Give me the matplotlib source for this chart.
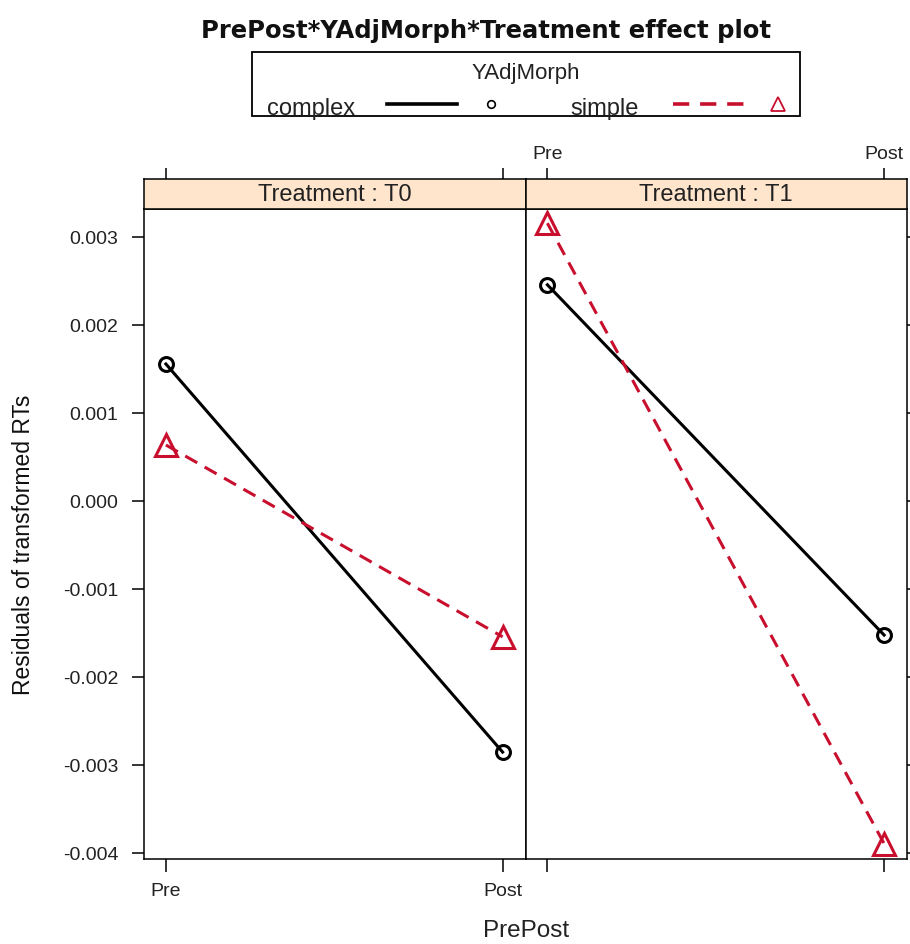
import numpy as np
import matplotlib.pyplot as plt
from matplotlib.patches import Rectangle
from matplotlib.lines import Line2D

plt.rcParams['font.family'] = ['Liberation Sans', 'DejaVu Sans']

# data
phases = ['Pre', 'Post']
treatments = ['T0', 'T1']
complex_vals = {'T0': [0.00156, -0.00285], 'T1': [0.00246, -0.00152]}
simple_vals = {'T0': [0.00064, -0.00154], 'T1': [0.00316, -0.00389]}
yticks = [-0.004, -0.003, -0.002, -0.001, 0.000, 0.001, 0.002, 0.003]
ytick_labels = ['-0.004', '-0.003', '-0.002', '-0.001', '0.000', '0.001', '0.002', '0.003']

red = '#c8102e'
W, H = 910, 944
fig = plt.figure(figsize=(W / 100, H / 100), dpi=100)

# overlay in pixel coords for title / legend / axis labels
ov = fig.add_axes([0, 0, 1, 1])
ov.set_xlim(0, W)
ov.set_ylim(H, 0)
ov.axis('off')

ov.text(486, 31, 'PrePost*YAdjMorph*Treatment effect plot', ha='center', va='center',
        fontsize=17.5, fontweight='bold', family='DejaVu Sans', color='#111111')
ov.add_patch(Rectangle((252, 52), 548, 64, fill=False, lw=1.3, ec='black', zorder=3))
ov.text(526, 74, 'YAdjMorph', ha='center', va='center', fontsize=16, color='#222222')
ov.text(267, 115.5, 'complex', ha='left', va='baseline', fontsize=17, color='#222222')
ov.text(570, 115.5, 'simple', ha='left', va='baseline', fontsize=17, color='#222222')
ov.add_line(Line2D([387, 457], [104, 104], color='black', lw=2.6))
ov.plot([491], [104], marker='o', ms=5.5, mfc='none', mec='black', mew=1.2)
ov.add_line(Line2D([673, 744], [104, 104], color=red, lw=2.6, dashes=(4.5, 3)))
ov.plot([778], [104], marker='^', ms=10, mfc='none', mec=red, mew=1.3)

ov.text(24, 545, 'Residuals of transformed RTs', rotation=90, ha='center', va='center',
        fontsize=16.5, color='#111111')
ov.text(526, 931, 'PrePost', ha='center', va='center', fontsize=17.5, color='#222222')

# panel geometry
left, pw = 144 / W, 381.5 / W
bottom, ph = (H - 859) / H, (859 - 209.3) / H
sb, sh = (H - 209.3) / H, 30.3 / H
xlim = (0.935, 2.068)
ylim = (-0.004065, 0.003318)
xs = np.arange(1, len(phases) + 1)

for i, tr in enumerate(treatments):
    x0 = left + i * pw
    ax = fig.add_axes([x0, bottom, pw, ph])
    ax.plot(xs, complex_vals[tr], color='black', lw=2.2, marker='o', ms=10,
            mfc='none', mec='black', mew=2.2)
    ax.plot(xs, simple_vals[tr], color=red, lw=2.2, dashes=(4.5, 2.8), marker='^', ms=16,
            mfc='none', mec=red, mew=2.2)
    ax.set_xlim(xlim)
    ax.set_ylim(ylim)
    ax.set_xticks(xs)
    ax.set_yticks(yticks)
    for s in ax.spines.values():
        s.set_linewidth(1.1)
    ax.tick_params(direction='out', width=1.1, labelsize=14, colors='black', labelcolor='#222222')
    ax.tick_params(axis='y', length=8.6, pad=10)
    ax.tick_params(axis='x', length=9.4, pad=8)
    if i == 0:
        ax.set_xticklabels(phases)
        ax.set_yticklabels(ytick_labels)
        ax.tick_params(axis='y', left=True, right=False)
    else:
        ax.set_xticklabels([])
        ax.set_yticklabels([])
        ax.tick_params(axis='y', left=False, right=True, labelleft=False)

    # strip with top ticks
    st = fig.add_axes([x0, sb, pw, sh])
    st.set_facecolor('#ffe5cc')
    st.set_xlim(xlim)
    st.set_ylim(0, 1)
    st.set_yticks([])
    st.xaxis.set_ticks_position('top')
    st.set_xticks(xs)
    for s in st.spines.values():
        s.set_linewidth(1.1)
    st.tick_params(axis='x', direction='out', length=8, width=1.1, pad=3.5,
                   labelsize=14, labelcolor='#222222')
    if i == 1:
        st.set_xticklabels(phases)
    else:
        st.set_xticklabels([])
    st.text(0.5, 0.47, 'Treatment : ' + tr, transform=st.transAxes, ha='center',
            va='center', fontsize=17, color='#222222')

fig.savefig('out.png', dpi=100)
